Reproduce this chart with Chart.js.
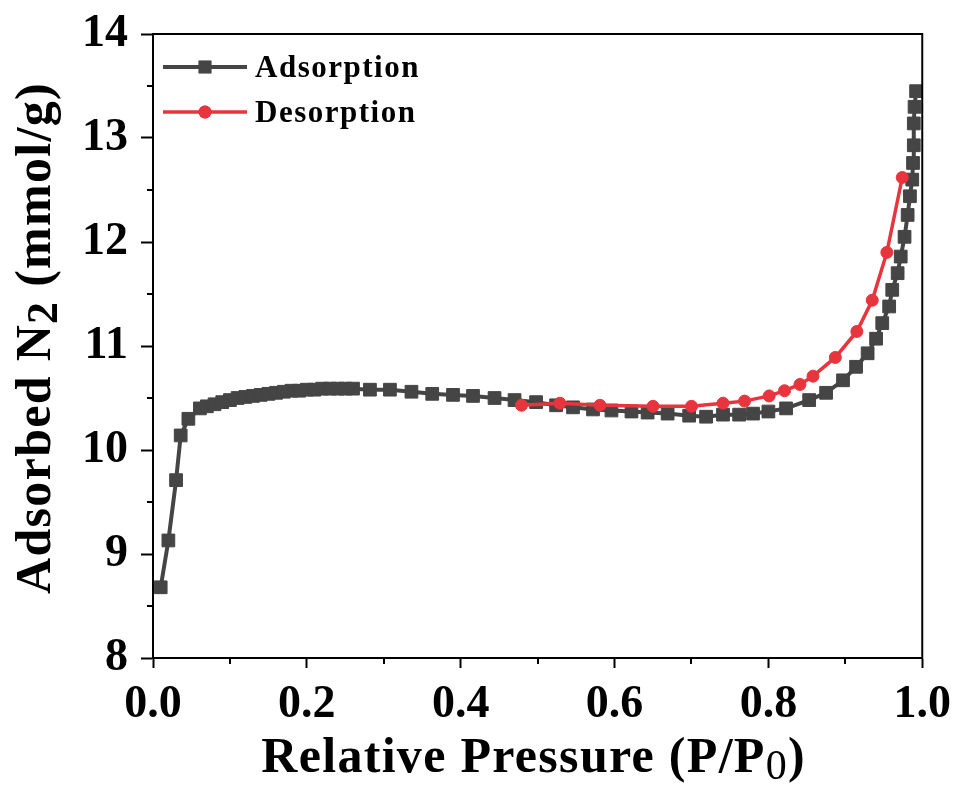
<!DOCTYPE html>
<html>
<head>
<meta charset="utf-8">
<script src="https://cdn.jsdelivr.net/npm/chart.js@4.4.1/dist/chart.umd.min.js"></script>
<style>
html, body { margin: 0; padding: 0; background: #fff; }
#wrap { width: 961px; height: 785px; }
</style>
</head>
<body>
<div id="wrap"><canvas id="chart" width="961" height="785"></canvas></div>
<script>
// ── DATA ──────────────────────────────────────────────────────
const adsP = [0.010, 0.020, 0.030, 0.036, 0.046, 0.061, 0.070, 0.080, 0.090, 0.100,
              0.110, 0.120, 0.130, 0.140, 0.150, 0.160, 0.170, 0.180, 0.190, 0.200,
              0.210, 0.220, 0.230, 0.240, 0.250, 0.260, 0.282, 0.308, 0.336, 0.363,
              0.390, 0.416, 0.444, 0.470, 0.498, 0.524, 0.546, 0.572, 0.596, 0.622,
              0.643, 0.669, 0.697, 0.719, 0.741, 0.762, 0.780, 0.800, 0.823, 0.853,
              0.875, 0.897, 0.914, 0.929, 0.940, 0.948, 0.957, 0.961, 0.968, 0.972,
              0.977, 0.981, 0.984, 0.987, 0.988, 0.989, 0.989, 0.990, 0.992];
const adsN = [8.68, 9.13, 9.71, 10.14, 10.30, 10.40, 10.42, 10.44, 10.46, 10.48,
              10.50, 10.51, 10.52, 10.53, 10.54, 10.55, 10.56, 10.57, 10.57, 10.58,
              10.58, 10.59, 10.59, 10.59, 10.59, 10.59, 10.58, 10.58, 10.56, 10.54,
              10.53, 10.52, 10.50, 10.48, 10.46, 10.43, 10.41, 10.39, 10.38, 10.37,
              10.36, 10.35, 10.33, 10.32, 10.34, 10.34, 10.35, 10.37, 10.40, 10.48,
              10.55, 10.67, 10.80, 10.93, 11.07, 11.22, 11.38, 11.54, 11.70, 11.86,
              12.05, 12.26, 12.44, 12.60, 12.76, 12.93, 13.14, 13.30, 13.45];

const desP = [0.479, 0.529, 0.581, 0.650, 0.700, 0.741, 0.769, 0.801,
              0.821, 0.841, 0.858, 0.887, 0.915, 0.935, 0.954, 0.974];
const desN = [10.43, 10.45, 10.43, 10.42, 10.42, 10.45, 10.47, 10.52,
              10.57, 10.63, 10.71, 10.89, 11.14, 11.44, 11.90, 12.62];

const xTicks = [0, 0.2, 0.4, 0.6, 0.8, 1.0];
const xMinor = [0.1, 0.3, 0.5, 0.7, 0.9];
const yTicks = [8, 9, 10, 11, 12, 13, 14];
const yMinor = [8.5, 9.5, 10.5, 11.5, 12.5, 13.5];

const GRAY = '#454545';
const RED = '#e8343c';
const SERIF = '"Liberation Serif", "Times New Roman", serif';

// ── DECORATION PLUGIN ─────────────────────────────────────────
const frame = {
    id: 'frame',
    afterDraw(chart) {
        const ctx = chart.ctx;
        const a = chart.chartArea;
        const xs = chart.scales.x, ys = chart.scales.y;
        ctx.save();
        ctx.strokeStyle = '#000';
        ctx.lineWidth = 2;
        ctx.strokeRect(a.left, a.top, a.right - a.left, a.bottom - a.top);

        // minor ticks
        ctx.beginPath();
        xMinor.forEach(v => {
            const px = Math.round(xs.getPixelForValue(v));
            ctx.moveTo(px, a.bottom); ctx.lineTo(px, a.bottom + 6);
        });
        yMinor.forEach(v => {
            const py = Math.round(ys.getPixelForValue(v));
            ctx.moveTo(a.left, py); ctx.lineTo(a.left - 6, py);
        });
        ctx.stroke();

        // legend
        const items = [
            { label: 'Adsorption', color: GRAY, style: 'rect', r: 9, y: 67, lw: 4 },
            { label: 'Desorption', color: RED, style: 'circle', r: 6.5, y: 112, lw: 3.5 }
        ];
        items.forEach(it => {
            ctx.strokeStyle = it.color;
            ctx.lineWidth = it.lw;
            ctx.beginPath();
            ctx.moveTo(163, it.y); ctx.lineTo(247, it.y);
            ctx.stroke();
            ctx.fillStyle = it.color;
            Chart.helpers.drawPoint(ctx, { pointStyle: it.style, radius: it.r, borderWidth: 0 }, 205, it.y);
            ctx.fill();
            ctx.fillStyle = '#000';
            ctx.font = 'bold 31px ' + SERIF;
            ctx.letterSpacing = '1.5px';
            ctx.textAlign = 'left';
            ctx.textBaseline = 'middle';
            ctx.fillText(it.label, 255, it.y + 2);
        });

        // axis titles with subscripts
        ctx.letterSpacing = '1.3px';
        drawParts(ctx, [
            { t: 'Relative Pressure (P/P', f: 'bold 50px ' + SERIF, dy: 0 },
            { t: '0', f: '42px ' + SERIF, dy: 7 },
            { t: ')', f: 'bold 50px ' + SERIF, dy: 0 }
        ], (a.left + a.right) / 2 - 4, 772, 0);

        drawParts(ctx, [
            { t: 'Adsorbed N', f: 'bold 50px ' + SERIF, dy: 0 },
            { t: '2', f: 'bold 44px ' + SERIF, dy: 7 },
            { t: ' (mmol/g)', f: 'bold 50px ' + SERIF, dy: 0 }
        ], 50, 338, -Math.PI / 2);
        ctx.letterSpacing = '0px';
        ctx.restore();
    }
};

function drawParts(ctx, parts, cx, baseY, rot) {
    let total = 0;
    parts.forEach(p => { ctx.font = p.f; p.w = ctx.measureText(p.t).width; total += p.w; });
    ctx.save();
    ctx.translate(cx, baseY);
    ctx.rotate(rot);
    ctx.fillStyle = '#000';
    ctx.textAlign = 'left';
    ctx.textBaseline = 'alphabetic';
    let x = -total / 2;
    parts.forEach(p => {
        ctx.font = p.f;
        ctx.fillText(p.t, x, p.dy);
        x += p.w;
    });
    ctx.restore();
}

// ── CHART ─────────────────────────────────────────────────────
const tickFont = { family: SERIF, size: 46, weight: 'bold' };

new Chart(document.getElementById('chart'), {
    type: 'line',
    data: {
        datasets: [
            {
                label: 'Adsorption',
                data: adsP.map((p, i) => ({ x: p, y: adsN[i] })),
                borderColor: GRAY,
                backgroundColor: GRAY,
                borderWidth: 4,
                pointStyle: 'rect',
                pointRadius: 9,
                pointBorderWidth: 1,
                tension: 0,
                order: 1
            },
            {
                label: 'Desorption',
                data: desP.map((p, i) => ({ x: p, y: desN[i] })),
                borderColor: RED,
                backgroundColor: RED,
                borderWidth: 3.5,
                pointStyle: 'circle',
                pointRadius: 6,
                pointBorderWidth: 1,
                tension: 0,
                order: 0
            }
        ]
    },
    options: {
        responsive: false,
        animation: false,
        devicePixelRatio: 1,
        layout: { padding: { left: 0, top: 34, right: 38, bottom: 0 } },
        plugins: { legend: { display: false }, tooltip: { enabled: false } },
        scales: {
            x: {
                type: 'linear',
                min: 0, max: 1,
                afterBuildTicks: s => { s.ticks = xTicks.map(v => ({ value: v })); },
                afterFit: s => { s.height = 127; },
                ticks: { callback: v => v.toFixed(1), font: tickFont, color: '#000', padding: 10, maxRotation: 0 },
                grid: { display: true, drawOnChartArea: false, drawTicks: true, tickLength: 10, tickWidth: 2, tickColor: '#000' },
                border: { display: true, color: '#000', width: 2 }
            },
            y: {
                type: 'linear',
                min: 8, max: 14,
                afterBuildTicks: s => { s.ticks = yTicks.map(v => ({ value: v })); },
                afterFit: s => { s.width = 153; },
                ticks: { callback: v => String(v), font: { family: SERIF, size: 46, weight: 'bold', lineHeight: 0.6 }, color: '#000', padding: 13 },
                grid: { display: true, drawOnChartArea: false, drawTicks: true, tickLength: 12, tickWidth: 2, tickColor: '#000' },
                border: { display: true, color: '#000', width: 2 }
            }
        }
    },
    plugins: [frame]
});
</script>
</body>
</html>
